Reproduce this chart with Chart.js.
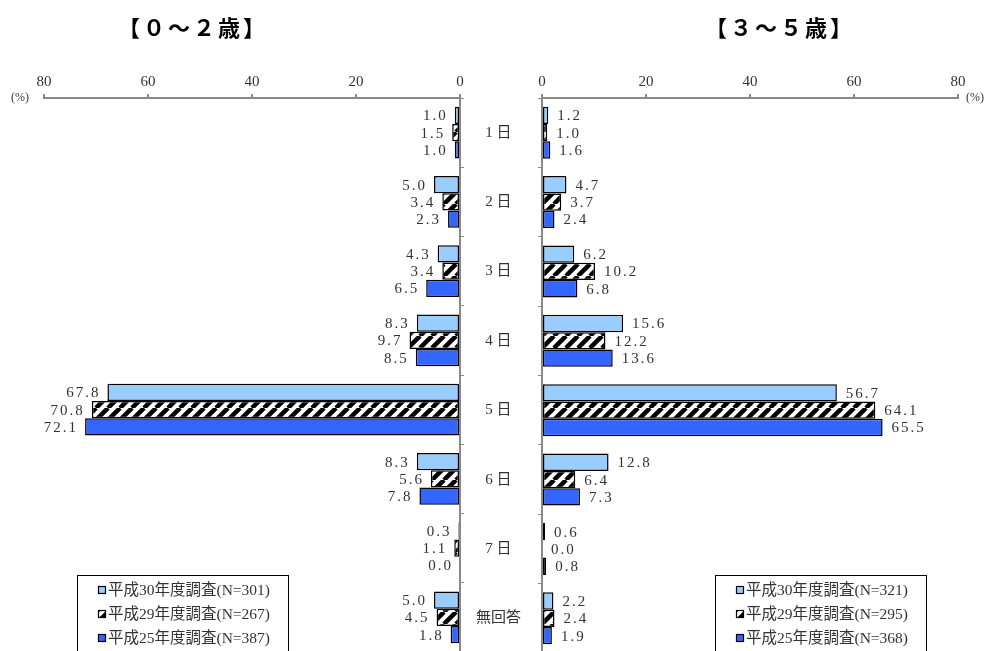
<!DOCTYPE html>
<html>
<head>
<meta charset="utf-8">
<script src="https://cdn.jsdelivr.net/npm/chart.js@4.4.1/dist/chart.umd.min.js"></script>
<style>
    body { margin: 0; background: #fff; }
    #wrap { position: relative; width: 993px; height: 651px; overflow: hidden; }
    canvas { position: absolute; top: 0; }
    #chart-left { left: 0; }
    #chart-right { left: 470px; }
</style>
</head>
<body>
<div id="wrap">
    <canvas id="chart-left" width="470" height="652"></canvas>
    <canvas id="chart-right" width="523" height="679"></canvas>
</div>
<script>
'use strict';
var categories = ['1 日', '2 日', '3 日', '4 日', '5 日', '6 日', '7 日', '無回答'];
var surveyNames = ['平成30年度調査', '平成29年度調査', '平成25年度調査'];
var xTicks = [0, 20, 40, 60, 80];

// 0~2歳
var young_h30 = [1.0, 5.0, 4.3, 8.3, 67.8, 8.3, 0.3, 5.0];
var young_h29 = [1.5, 3.4, 3.4, 9.7, 70.8, 5.6, 1.1, 4.5];
var young_h25 = [1.0, 2.3, 6.5, 8.5, 72.1, 7.8, 0.0, 1.8];
var young_n = [301, 267, 387];

// 3~5歳
var older_h30 = [1.2, 4.7, 6.2, 15.6, 56.7, 12.8, 0.6, 2.2];
var older_h29 = [1.0, 3.7, 10.2, 12.2, 64.1, 6.4, 0.0, 2.4];
var older_h25 = [1.6, 2.4, 6.8, 13.6, 65.5, 7.3, 0.8, 1.9];
var older_n = [321, 295, 368];

var LIGHT = '#99ccff';
var BLUE = '#3366ff';
var SERIF = '"Liberation Serif", "Noto Sans CJK JP", serif';

function makeHatch(ctx) {
    var s = 12;
    var c = document.createElement('canvas');
    c.width = s; c.height = s;
    var g = c.getContext('2d');
    g.fillStyle = '#fff';
    g.fillRect(0, 0, s, s);
    g.strokeStyle = '#000';
    g.lineWidth = 4.5;
    g.beginPath();
    [-s, 0, s].forEach(function(k) { g.moveTo(k, s); g.lineTo(k + s, 0); });
    g.stroke();
    return ctx.createPattern(c, 'repeat');
}

// value labels next to the bar ends
var barLabels = {
    id: 'barLabels',
    afterDatasetsDraw: function(chart, args, opts) {
        var ctx = chart.ctx;
        ctx.save();
        ctx.font = '15px ' + SERIF;
        ctx.fillStyle = '#333';
        ctx.textBaseline = 'middle';
        ctx.letterSpacing = '2px';
        ctx.textAlign = opts.side === 'left' ? 'right' : 'left';
        chart.data.datasets.forEach(function(ds, i) {
            chart.getDatasetMeta(i).data.forEach(function(bar, j) {
                var x = opts.side === 'left' ? bar.x - 7 : bar.x + 9;
                ctx.fillText(ds.data[j].toFixed(1), x, bar.y + 1);
            });
        });
        ctx.restore();
    }
};

// title, (%) unit and the boxed legend
var frame = {
    id: 'frame',
    afterDraw: function(chart, args, o) {
        var ctx = chart.ctx;
        ctx.save();
        ctx.fillStyle = '#000';
        ctx.textAlign = 'center';
        ctx.textBaseline = 'middle';
        ctx.font = 'bold 22px "Noto Sans CJK JP", sans-serif';
        ctx.letterSpacing = '3px';
        ctx.fillText(o.title, o.titleX, 28);
        ctx.letterSpacing = '0px';
        ctx.font = '12px ' + SERIF;
        ctx.fillStyle = '#333';
        ctx.fillText('(%)', o.pctX, 98);

        // legend
        ctx.strokeStyle = '#000';
        ctx.lineWidth = 1;
        ctx.fillStyle = '#fff';
        ctx.fillRect(o.legX, 575, 211, 80);
        ctx.strokeRect(o.legX + 0.5, 575.5, 211, 80);
        ctx.textAlign = 'left';
        ctx.font = '15.5px ' + SERIF;
        chart.data.datasets.forEach(function(ds, i) {
            var y = 590 + i * 24;
            var sx = o.legX + 21;
            ctx.fillStyle = ds.backgroundColor;
            ctx.fillRect(sx, y - 4, 8, 8);
            ctx.strokeStyle = '#000';
            ctx.lineWidth = 1.2;
            ctx.strokeRect(sx + 0.5, y - 3.5, 7, 7);
            ctx.fillStyle = '#333';
            ctx.fillText(ds.label + '(N=' + o.n[i] + ')', sx + 10, y + 1);
        });
        ctx.restore();
    }
};

function buildDatasets(ctx, a, b, c) {
    var hatch = makeHatch(ctx);
    var common = { borderColor: '#000', borderWidth: 1.5, borderSkipped: false,
                   categoryPercentage: 0.75, barPercentage: 1.0 };
    return [
        Object.assign({ label: surveyNames[0], data: a, backgroundColor: LIGHT }, common),
        Object.assign({ label: surveyNames[1], data: b, backgroundColor: hatch }, common),
        Object.assign({ label: surveyNames[2], data: c, backgroundColor: BLUE }, common)
    ];
}

function xScale(reverse) {
    return {
        position: 'top',
        reverse: reverse,
        min: 0,
        max: 80,
        afterBuildTicks: function(s) { s.ticks = xTicks.map(function(v) { return { value: v }; }); },
        afterFit: function(s) { s.height = 30; },
        border: { color: '#888', width: 2 },
        grid: { drawOnChartArea: false, drawTicks: true, tickLength: 4, color: '#888', lineWidth: 2 },
        ticks: { font: { family: SERIF, size: 15 }, color: '#333', padding: 3, maxRotation: 0 }
    };
}

// [ left chart 0~2歳 ] start
var ctxL = document.getElementById('chart-left').getContext('2d');
new Chart(ctxL, {
    type: 'bar',
    data: { labels: categories, datasets: buildDatasets(ctxL, young_h30, young_h29, young_h25) },
    options: {
        indexAxis: 'y',
        responsive: false,
        animation: false,
        layout: { padding: { left: 44, right: 0, top: 68, bottom: 0 } },
        scales: {
            x: xScale(true),
            y: {
                position: 'right',
                afterFit: function(s) { s.width = 10; },
                border: { color: '#888', width: 2 },
                grid: { drawOnChartArea: false, tickLength: 4, color: '#888' },
                ticks: { display: false }
            }
        },
        plugins: {
            legend: { display: false },
            tooltip: { enabled: false },
            barLabels: { side: 'left' },
            frame: { title: '【０～２歳】', titleX: 193, pctX: 20, legX: 77, n: young_n }
        }
    },
    plugins: [barLabels, frame]
});
// [ left chart ] end

// [ right chart 3~5歳 ] start
var ctxR = document.getElementById('chart-right').getContext('2d');
new Chart(ctxR, {
    type: 'bar',
    data: { labels: categories, datasets: buildDatasets(ctxR, older_h30, older_h29, older_h25) },
    options: {
        indexAxis: 'y',
        responsive: false,
        animation: false,
        layout: { padding: { left: 0, right: 35, top: 68, bottom: 0 } },
        scales: {
            x: xScale(false),
            y: {
                position: 'left',
                afterFit: function(s) { s.width = 72; },
                border: { color: '#888', width: 2 },
                grid: { drawOnChartArea: false, tickLength: 4, color: '#888' },
                ticks: { font: { family: SERIF, size: 15 }, color: '#333', padding: 17, crossAlign: 'center' }
            }
        },
        plugins: {
            legend: { display: false },
            tooltip: { enabled: false },
            barLabels: { side: 'right' },
            frame: { title: '【３～５歳】', titleX: 310, pctX: 505, legX: 245, n: older_n }
        }
    },
    plugins: [barLabels, frame]
});
// [ right chart ] end
</script>
</body>
</html>
